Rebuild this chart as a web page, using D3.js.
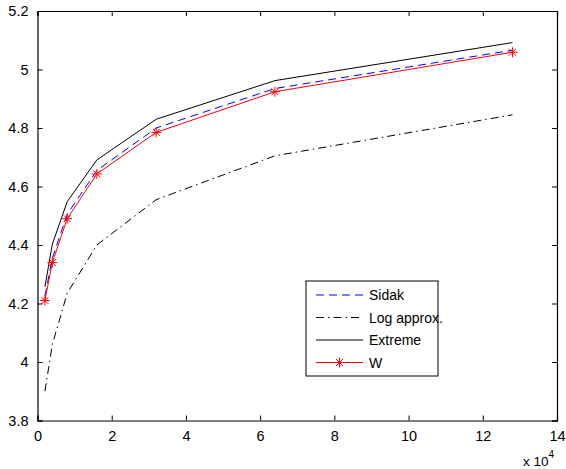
<!DOCTYPE html>
<html><head><meta charset="utf-8">
<script src="https://cdn.jsdelivr.net/npm/d3@7"></script>
<style>body{margin:0;background:#fff}svg{display:block}text{font-family:"Liberation Sans",Arial,Helvetica,sans-serif}</style>
</head><body><svg id="c" width="566" height="469"></svg>
<script>
const xVals = [0.2, 0.4, 0.8, 1.6, 3.2, 6.4, 12.8]; // x 10^4
const sidak = [4.225, 4.355, 4.505, 4.655, 4.800, 4.935, 5.066];
const logApprox = [3.90, 4.06, 4.235, 4.40, 4.555, 4.705, 4.845];
const extreme = [4.257, 4.403, 4.548, 4.691, 4.830, 4.962, 5.092];
const wVals = [4.21, 4.34, 4.49, 4.643, 4.785, 4.924, 5.059];
const xTicks = [0, 2, 4, 6, 8, 10, 12, 14];
const yTicks = [3.8, 4, 4.2, 4.4, 4.6, 4.8, 5, 5.2];
const legendLabels = ["Sidak", "Log approx.", "Extreme", "W"];

const svg = d3.select("#c");
const L = 37.5, R = 557, T = 11, B = 420.5;
const x = d3.scaleLinear().domain([0, 14]).range([L, R]);
const y = d3.scaleLinear().domain([3.8, 5.2]).range([B, T]);

const series = [
  {name: legendLabels[0], vals: sidak, color: "#0000ff", dash: "8,5", marker: false},
  {name: legendLabels[1], vals: logApprox, color: "#000", dash: "8,4,1.5,4", marker: false},
  {name: legendLabels[2], vals: extreme, color: "#000", dash: null, marker: false},
  {name: legendLabels[3], vals: wVals, color: "#ff0000", dash: null, marker: true}
];

const line = d3.line().x(d => x(d[0])).y(d => y(d[1]));

function asterisk(g, cx, cy, r, color) {
  const d = `M${cx - r},${cy}L${cx + r},${cy}M${cx},${cy - r}L${cx},${cy + r}` +
    `M${cx - r * 0.7},${cy - r * 0.7}L${cx + r * 0.7},${cy + r * 0.7}M${cx - r * 0.7},${cy + r * 0.7}L${cx + r * 0.7},${cy - r * 0.7}`;
  g.append("path").attr("d", d).attr("stroke", color).attr("stroke-width", 1).attr("fill", "none");
}

const plot = svg.append("g");
series.forEach(s => {
  const pts = xVals.map((v, i) => [v, s.vals[i]]);
  plot.append("path").datum(pts).attr("d", line).attr("fill", "none")
    .attr("stroke", s.color).attr("stroke-width", 1)
    .attr("stroke-dasharray", s.dash);
  if (s.marker) pts.forEach(p => asterisk(plot, x(p[0]), y(p[1]), 5, s.color));
});

// axes box
const axG = svg.append("g");
const xb = d3.axisBottom(x).tickValues(xTicks).tickSize(-5).tickPadding(10).tickFormat(d3.format("d"));
const xt = d3.axisTop(x).tickValues(xTicks).tickSize(-5).tickFormat("");
const yl = d3.axisLeft(y).tickValues(yTicks).tickSize(-5).tickPadding(9).tickFormat(d => d3.format("")(+d.toFixed(1)));
const yr = d3.axisRight(y).tickValues(yTicks).tickSize(-5).tickFormat("");
[[xb, `translate(0,${B})`], [xt, `translate(0,${T})`], [yl, `translate(${L},0)`], [yr, `translate(${R},0)`]].forEach(([a, tr]) => {
  const g = axG.append("g").attr("transform", tr).call(a);
  g.select(".domain").attr("stroke", "#000").attr("stroke-width", 1.2);
  g.selectAll(".tick line").attr("stroke", "#000");
  g.selectAll("text").attr("font-size", 14.5).attr("fill", "#000")
    .attr("font-family", '"Liberation Sans",Arial,sans-serif');
});

// x 10^4
const ex = svg.append("text").attr("x", 523).attr("y", 466).attr("font-size", 13.5).attr("fill", "#000");
ex.append("tspan").text("x 10");
ex.append("tspan").attr("dy", -8).attr("font-size", 10).text("4");

// legend
const lg = svg.append("g");
lg.append("rect").attr("x", 306).attr("y", 281).attr("width", 132).attr("height", 95)
  .attr("fill", "#fff").attr("stroke", "#000").attr("stroke-width", 1);
series.forEach((s, i) => {
  const yy = 295 + i * 22.5;
  lg.append("line").attr("x1", 316).attr("x2", 363).attr("y1", yy).attr("y2", yy)
    .attr("stroke", s.color).attr("stroke-width", 1).attr("stroke-dasharray", s.dash);
  if (s.marker) asterisk(lg, 339.5, yy, 5, s.color);
  lg.append("text").attr("x", 369).attr("y", yy + 5).attr("font-size", 14).attr("fill", "#000").text(s.name);
});
</script></body></html>
